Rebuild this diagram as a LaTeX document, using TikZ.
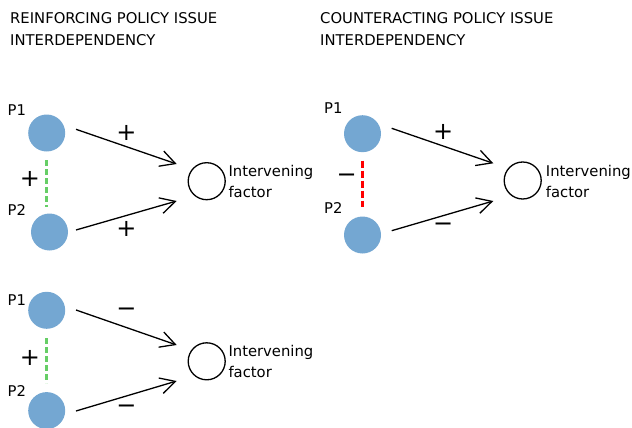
\documentclass[tikz,border=0pt]{standalone}
\usepackage{fontspec}
\setmainfont{DejaVu Sans}
\usetikzlibrary{arrows.meta}
\definecolor{pblue}{RGB}{116,167,210}
\definecolor{dgreen}{RGB}{102,206,102}
\definecolor{dred}{RGB}{255,0,0}
\tikzset{
  pol/.style={circle,fill=pblue,inner sep=0pt,minimum size=37pt},
  ifac/.style={circle,draw=black,line width=1.3pt,inner sep=0pt,minimum size=37pt},
  lbl/.style={font=\fontsize{14.8}{17}\selectfont,inner sep=0pt,anchor=base west},
  ttl/.style={font=\fontsize{14.8}{17}\selectfont,inner sep=0pt,anchor=base west},
  sgn/.style={font=\fontsize{24}{24}\selectfont,inner sep=0pt},
  conn/.style={line width=1.3pt,-{Straight Barb[length=15pt,width=16pt,line width=1.3pt]}},
  posdash/.style={draw=dgreen,line width=3pt,dash pattern=on 6pt off 3pt},
  negdash/.style={draw=dred,line width=3pt,dash pattern=on 7.5pt off 2.5pt},
}
\begin{document}
\begin{tikzpicture}[x=1pt,y=-1pt]
\useasboundingbox (0,0) rectangle (632,428);
% titles
\node[ttl] (t1a) at (10,23.5) {REINFORCING POLICY ISSUE};
\node[ttl] (t1b) at (10,45.5) {INTERDEPENDENCY};
\node[ttl] (t2a) at (320,23.5) {COUNTERACTING POLICY ISSUE};
\node[ttl] (t2b) at (320,45.5) {INTERDEPENDENCY};

% ---------- panel 1 ----------
\node[pol] (ap1) at (46.7,133) {};
\node[pol] (ap2) at (49.5,232) {};
\node[lbl] (ap1l) at (7.5,115) {P1};
\node[lbl] (ap2l) at (7.5,215) {P2};
\coordinate (ad1) at (46.7,160);
\coordinate (ad2) at (46.7,207);
\draw[posdash] (ad1) -- (ad2);
\node[sgn] (ads) at (30,179) {+};
\node[ifac] (ai) at (206.7,181.2) {};
\node[lbl] (ail1) at (228.3,176.7) {Intervening};
\node[lbl] (ail2) at (228.3,197) {factor};
\coordinate (aa1s) at (76,129.3);
\coordinate (aa1e) at (176.7,164);
\coordinate (aa2s) at (76,230);
\coordinate (aa2e) at (176.7,201);
\draw[conn] (aa1s) -- (aa1e);
\draw[conn] (aa2s) -- (aa2e);
\node[sgn] (aa1l) at (126.5,133) {+};
\node[sgn] (aa2l) at (126.5,229) {+};

% ---------- panel 2 ----------
\node[pol] (bp1) at (362.5,133.7) {};
\node[pol] (bp2) at (362.5,235) {};
\node[lbl] (bp1l) at (324,113.3) {P1};
\node[lbl] (bp2l) at (324,213.3) {P2};
\coordinate (bd1) at (362.3,160.7);
\coordinate (bd2) at (362.3,206.7);
\draw[negdash] (bd1) -- (bd2);
\node[sgn] (bds) at (346.7,178.3) {−};
\node[ifac] (bi) at (522.7,180.5) {};
\node[lbl] (bil1) at (545.7,176) {Intervening};
\node[lbl] (bil2) at (545.7,197) {factor};
\coordinate (ba1s) at (391.7,128.3);
\coordinate (ba1e) at (493.3,163.3);
\coordinate (ba2s) at (391.7,230.7);
\coordinate (ba2e) at (493.3,201);
\draw[conn] (ba1s) -- (ba1e);
\draw[conn] (ba2s) -- (ba2e);
\node[sgn] (ba1l) at (443.3,131.5) {+};
\node[sgn] (ba2l) at (443.3,227.7) {−};

% ---------- panel 3 ----------
\node[pol] (cp1) at (46.7,310.3) {};
\node[pol] (cp2) at (46.7,410.6) {};
\node[lbl] (cp1l) at (7.5,305) {P1};
\node[lbl] (cp2l) at (7.5,396.7) {P2};
\coordinate (cd1) at (46.7,338.3);
\coordinate (cd2) at (46.7,383.3);
\draw[posdash] (cd1) -- (cd2);
\node[sgn] (cds) at (30,358) {+};
\node[ifac] (ci) at (206.7,361.3) {};
\node[lbl] (cil1) at (228.3,356.7) {Intervening};
\node[lbl] (cil2) at (228.3,377.3) {factor};
\coordinate (ca1s) at (76,310);
\coordinate (ca1e) at (176.7,345);
\coordinate (ca2s) at (76,411);
\coordinate (ca2e) at (176.7,381);
\draw[conn] (ca1s) -- (ca1e);
\draw[conn] (ca2s) -- (ca2e);
\node[sgn] (ca1l) at (126.5,312.7) {−};
\node[sgn] (ca2l) at (126.5,409.3) {−};
\end{tikzpicture}
\end{document}
